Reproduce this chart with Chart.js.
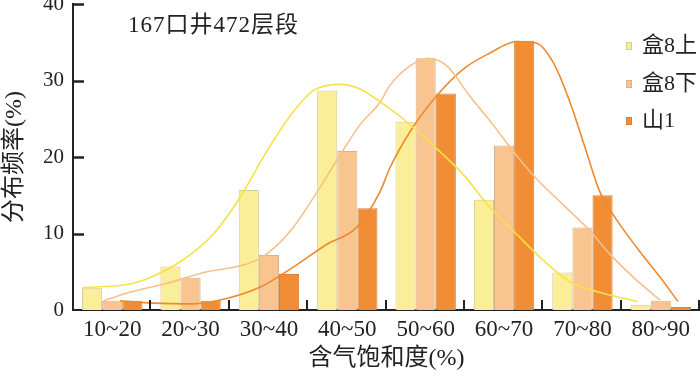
<!DOCTYPE html>
<html>
<head>
<meta charset="utf-8">
<script src="https://cdn.jsdelivr.net/npm/chart.js@4"></script>
<style>
    html, body { margin: 0; padding: 0; background: #fff; }
    #wrap { width: 700px; height: 377px; }
</style>
</head>
<body>
<div id="wrap"><canvas id="myChart" width="700" height="377"></canvas></div>
<script>
// categories and bar values (%)
const categories = ['10~20', '20~30', '30~40', '40~50', '50~60', '60~70', '70~80', '80~90'];
const he8s = [2.9, 5.7, 15.7, 28.7, 24.6, 14.4, 4.9, 0.7];
const he8x = [1.2, 4.2, 7.2, 20.8, 32.9, 21.5, 10.8, 1.2];
const shan1 = [1.2, 1.2, 4.7, 13.3, 28.3, 35.2, 15.0, 0.4];
const seriesNames = ['盒8上', '盒8下', '山1'];
const yTicks = [0, 10, 20, 30, 40];

// fitted curves, x in category units (0 = left edge of 10~20)
const he8sCurveX = [0.12, 0.77, 1.02, 1.41, 1.79, 2.13, 2.47, 2.81, 3.07, 3.41, 3.66, 3.92, 4.21, 4.64, 4.98, 5.32, 5.66, 6.00, 6.34, 6.76, 7.21];
const he8sCurveY = [2.9, 3.5, 4.4, 6.6, 9.9, 14.7, 20.7, 25.9, 28.7, 29.5, 28.9, 27.2, 25.0, 21.1, 17.7, 13.4, 9.9, 6.5, 3.7, 2.2, 1.1];
const he8xCurveX = [0.39, 0.68, 1.20, 1.71, 2.22, 2.47, 2.81, 3.15, 3.41, 3.66, 3.92, 4.04, 4.30, 4.53, 4.77, 5.06, 5.36, 5.62, 5.91, 6.25, 6.60, 6.85, 7.19, 7.49];
const he8xCurveY = [1.2, 2.2, 3.5, 5.0, 6.0, 7.3, 10.8, 16.0, 20.3, 24.2, 27.2, 29.3, 31.9, 32.9, 31.9, 28.0, 24.2, 20.7, 17.2, 13.8, 10.3, 7.3, 3.9, 1.3];
const shan1CurveX = [0.60, 1.02, 1.53, 1.96, 2.39, 2.81, 3.24, 3.62, 3.92, 4.04, 4.30, 4.64, 4.98, 5.32, 5.66, 5.91, 6.13, 6.34, 6.55, 6.72, 6.89, 7.19, 7.49, 7.72];
const shan1CurveY = [1.2, 0.9, 0.8, 1.5, 3.0, 5.6, 8.6, 10.8, 15.5, 18.5, 23.3, 28.0, 31.5, 33.6, 35.1, 34.9, 32.3, 27.2, 20.7, 15.5, 12.5, 8.2, 4.3, 1.1];

const barColors = ['#FBEE98', '#F8C591', '#F08D35'];
const barBorders = ['#D6CC98', '#D9B08A', '#D98036'];
const lineColors = ['#F6E247', '#F7C08A', '#EE8A2C'];

const serif = '"Liberation Serif", "Noto Sans CJK SC", serif';
const ink = '#222';

const toPoints = (xs, ys) => xs.map((x, i) => ({ x: x, y: ys[i] }));
// bars sit at the middle of each category on the same linear x scale as the curves
const toBars = (vals) => vals.map((v, i) => ({ x: i + 0.5, y: v }));

// inward tick marks, legend and the note in the plot
const extras = {
    id: 'extras',
    afterDraw(chart) {
        const ctx = chart.ctx;
        const x = chart.scales.x;
        const y = chart.scales.y;
        const area = chart.chartArea;
        ctx.save();
        ctx.strokeStyle = ink;
        ctx.lineWidth = 2.5;
        yTicks.forEach(v => {
            if (v === 0) return;
            const py = Math.round(y.getPixelForValue(v)) + 0.5;
            ctx.beginPath();
            ctx.moveTo(area.left, py);
            ctx.lineTo(area.left + 11, py);
            ctx.stroke();
        });
        ctx.lineWidth = 2;
        for (let i = 1; i <= categories.length; i++) {
            const px = Math.round(x.getPixelForValue(i)) - 1;
            ctx.beginPath();
            ctx.moveTo(px, area.bottom);
            ctx.lineTo(px, area.bottom - 10);
            ctx.stroke();
        }

        // legend
        ctx.font = '22px ' + serif;
        ctx.textBaseline = 'middle';
        ctx.textAlign = 'left';
        const legendY = [46, 84, 121];
        seriesNames.forEach((name, i) => {
            ctx.fillStyle = barColors[i];
            ctx.fillRect(626, legendY[i] - 4, 6, 8);
            ctx.strokeStyle = barBorders[i];
            ctx.lineWidth = 1;
            ctx.strokeRect(626.5, legendY[i] - 3.5, 5, 7);
            ctx.fillStyle = ink;
            ctx.fillText(name, 642, legendY[i]);
        });

        ctx.font = '23px ' + serif;
        ctx.letterSpacing = '1px';
        ctx.fillText('167口井472层段', 128, 26);
        ctx.restore();
    }
};

const ctx = document.getElementById('myChart').getContext('2d');
const barSets = [he8s, he8x, shan1].map((data, i) => ({
    type: 'bar',
    label: seriesNames[i],
    data: toBars(data),
    backgroundColor: barColors[i],
    borderColor: barBorders[i],
    borderWidth: 1,
    categoryPercentage: 0.77,
    barPercentage: 1,
    order: 2
}));
const curveSets = [
    [he8sCurveX, he8sCurveY],
    [he8xCurveX, he8xCurveY],
    [shan1CurveX, shan1CurveY]
].map((c, i) => ({
    type: 'line',
    label: seriesNames[i] + ' fit',
    data: toPoints(c[0], c[1]),
    borderColor: lineColors[i],
    borderWidth: 1.6,
    pointRadius: 0,
    fill: false,
    cubicInterpolationMode: 'monotone',
    order: 1
}));

const myChart = new Chart(ctx, {
    type: 'bar',
    data: {
        datasets: barSets.concat(curveSets)
    },
    options: {
        responsive: false,
        animation: false,
        layout: { padding: { top: 4, right: 0, bottom: 0, left: 0 } },
        plugins: {
            legend: { display: false },
            tooltip: { enabled: false }
        },
        scales: {
            x: {
                type: 'linear',
                min: 0,
                max: categories.length,
                offset: false,
                grid: { display: false, drawTicks: false },
                border: { display: true, color: ink, width: 2 },
                ticks: {
                    color: ink,
                    font: { family: serif, size: 23 },
                    padding: 6,
                    maxRotation: 0,
                    autoSkip: false,
                    callback: (v) => categories[Math.floor(v)]
                },
                afterBuildTicks(scale) {
                    scale.ticks = categories.map((c, i) => ({ value: i + 0.5 }));
                },
                title: { display: true, text: '含气饱和度(%)', color: ink, font: { family: serif, size: 24 }, padding: { top: 0, bottom: 4 } },
                afterFit(scale) { scale.height = 67; scale.paddingLeft = 0; scale.paddingRight = 0; }
            },
            y: {
                min: 0,
                max: 40,
                ticks: { stepSize: 10, color: ink, font: { family: serif, size: 21 }, padding: 9 },
                grid: { display: false, drawTicks: false },
                border: { display: true, color: ink, width: 2 },
                title: { display: true, text: '分布频率(%)', color: ink, font: { family: serif, size: 24 }, padding: { top: 0, bottom: 0 } },
                afterFit(scale) { scale.width = 73; scale.paddingTop = 0; scale.paddingBottom = 0; }
            }
        }
    },
    plugins: [extras]
});
</script>
</body>
</html>
